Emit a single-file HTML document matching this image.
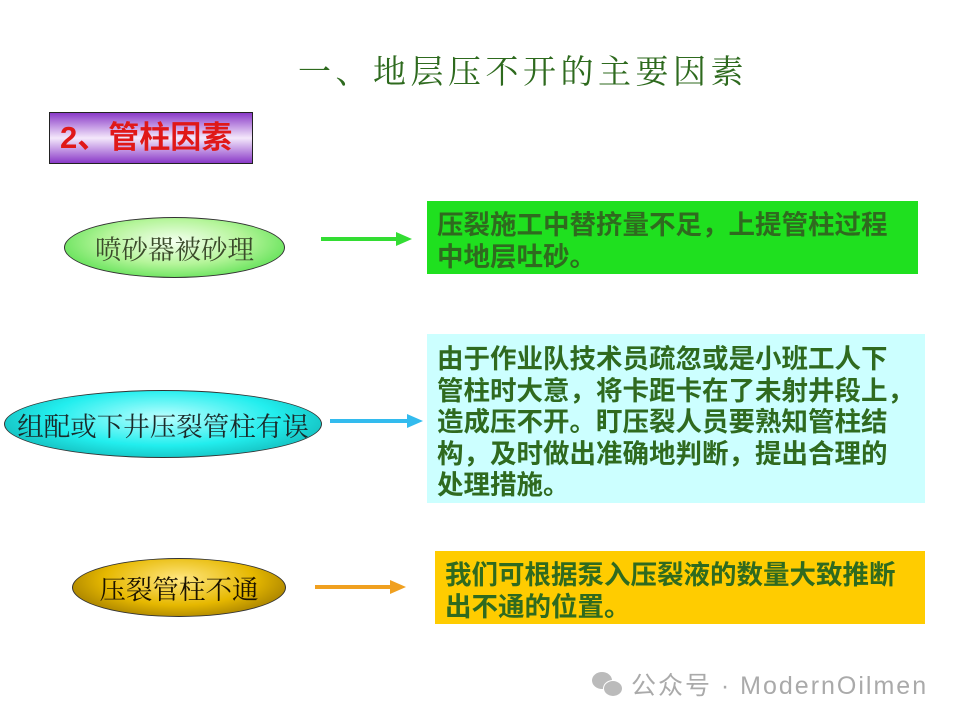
<!DOCTYPE html>
<html><head><meta charset="utf-8"><style>
body{margin:0;width:960px;height:720px;background:#fff;position:relative;overflow:hidden;font-family:"Liberation Sans","Noto Sans CJK SC",sans-serif}
.a{position:absolute}
.t{color:#2f6a1f;font-weight:bold;font-size:26.5px;line-height:31.6px;padding-left:10px;box-sizing:border-box;white-space:nowrap}
.el{position:absolute;border:1px solid #333;border-radius:50%;display:flex;align-items:center;justify-content:center;font-family:"Liberation Serif","Noto Serif CJK SC",serif;white-space:nowrap;font-size:26.5px}
</style></head><body>
<div class="a" style="left:298px;top:46px;font-size:33px;color:#2e6a1e;letter-spacing:4.5px;font-family:'Liberation Serif','Noto Serif CJK SC',serif;white-space:nowrap">一、地层压不开的主要因素</div>
<div class="a" style="left:49px;top:112px;width:204px;height:52px;border:1px solid #222;background:linear-gradient(#8a3ac8,#f4e8fb 50%,#8a3ac8);color:#e01818;font-size:31px;font-weight:bold;line-height:50px;padding-left:10px;box-sizing:border-box;white-space:nowrap">2、管柱因素</div>

<div class="el" style="left:64px;top:217px;width:219px;height:59px;background:radial-gradient(ellipse at 50% 40%,#f4fff0,#b5f59a 45%,#2ed52e);color:#3a4a2a">喷砂器被砂理</div>
<svg class="a" style="left:318px;top:229px" width="100" height="20"><line x1="3" y1="10" x2="80" y2="10" stroke="#33dd33" stroke-width="4"/><polygon points="78,3 94,10 78,17" fill="#33dd33"/></svg>
<div class="a t" style="left:427px;top:201px;width:491px;height:73px;background:#1fe01f;padding-top:9px">压裂施工中替挤量不足，上提管柱过程<br>中地层吐砂。</div>

<div class="el" style="left:4px;top:390px;width:316px;height:66px;background:radial-gradient(ellipse at 50% 40%,#bff,#2ee 50%,#0a9a9a);color:#1a2a2a">组配或下井压裂管柱有误</div>
<svg class="a" style="left:327px;top:411px" width="100" height="20"><line x1="3" y1="10" x2="82" y2="10" stroke="#33bbee" stroke-width="4"/><polygon points="80,3 96,10 80,17" fill="#33bbee"/></svg>
<div class="a t" style="left:427px;top:334px;width:498px;height:169px;background:#ccffff;padding-top:10px">由于作业队技术员疏忽或是小班工人下<br>管柱时大意，将卡距卡在了未射井段上，<br>造成压不开。盯压裂人员要熟知管柱结<br>构，及时做出准确地判断，提出合理的<br>处理措施。</div>

<div class="el" style="left:72px;top:558px;width:212px;height:57px;background:radial-gradient(ellipse at 50% 35%,#ffe680,#e6b800 50%,#7a5a00);color:#1a1200">压裂管柱不通</div>
<svg class="a" style="left:312px;top:577px" width="100" height="20"><line x1="3" y1="10" x2="80" y2="10" stroke="#f0a020" stroke-width="4"/><polygon points="78,3 94,10 78,17" fill="#f0a020"/></svg>
<div class="a t" style="left:435px;top:551px;width:490px;height:73px;background:#ffcc00;padding-top:9px">我们可根据泵入压裂液的数量大致推断<br>出不通的位置。</div>

<div class="a" style="left:592px;top:666px;font-size:25px;letter-spacing:2px;color:#aaa;white-space:nowrap"><span style="display:inline-block;width:30px;height:26px;vertical-align:-4px;position:relative"><span style="position:absolute;left:0;top:0;width:20px;height:17px;border-radius:50%;background:#bbb"></span><span style="position:absolute;left:11px;top:8px;width:18px;height:15px;border-radius:50%;background:#bbb;border:1px solid #fff"></span></span> 公众号 · ModernOilmen</div>
</body></html>
